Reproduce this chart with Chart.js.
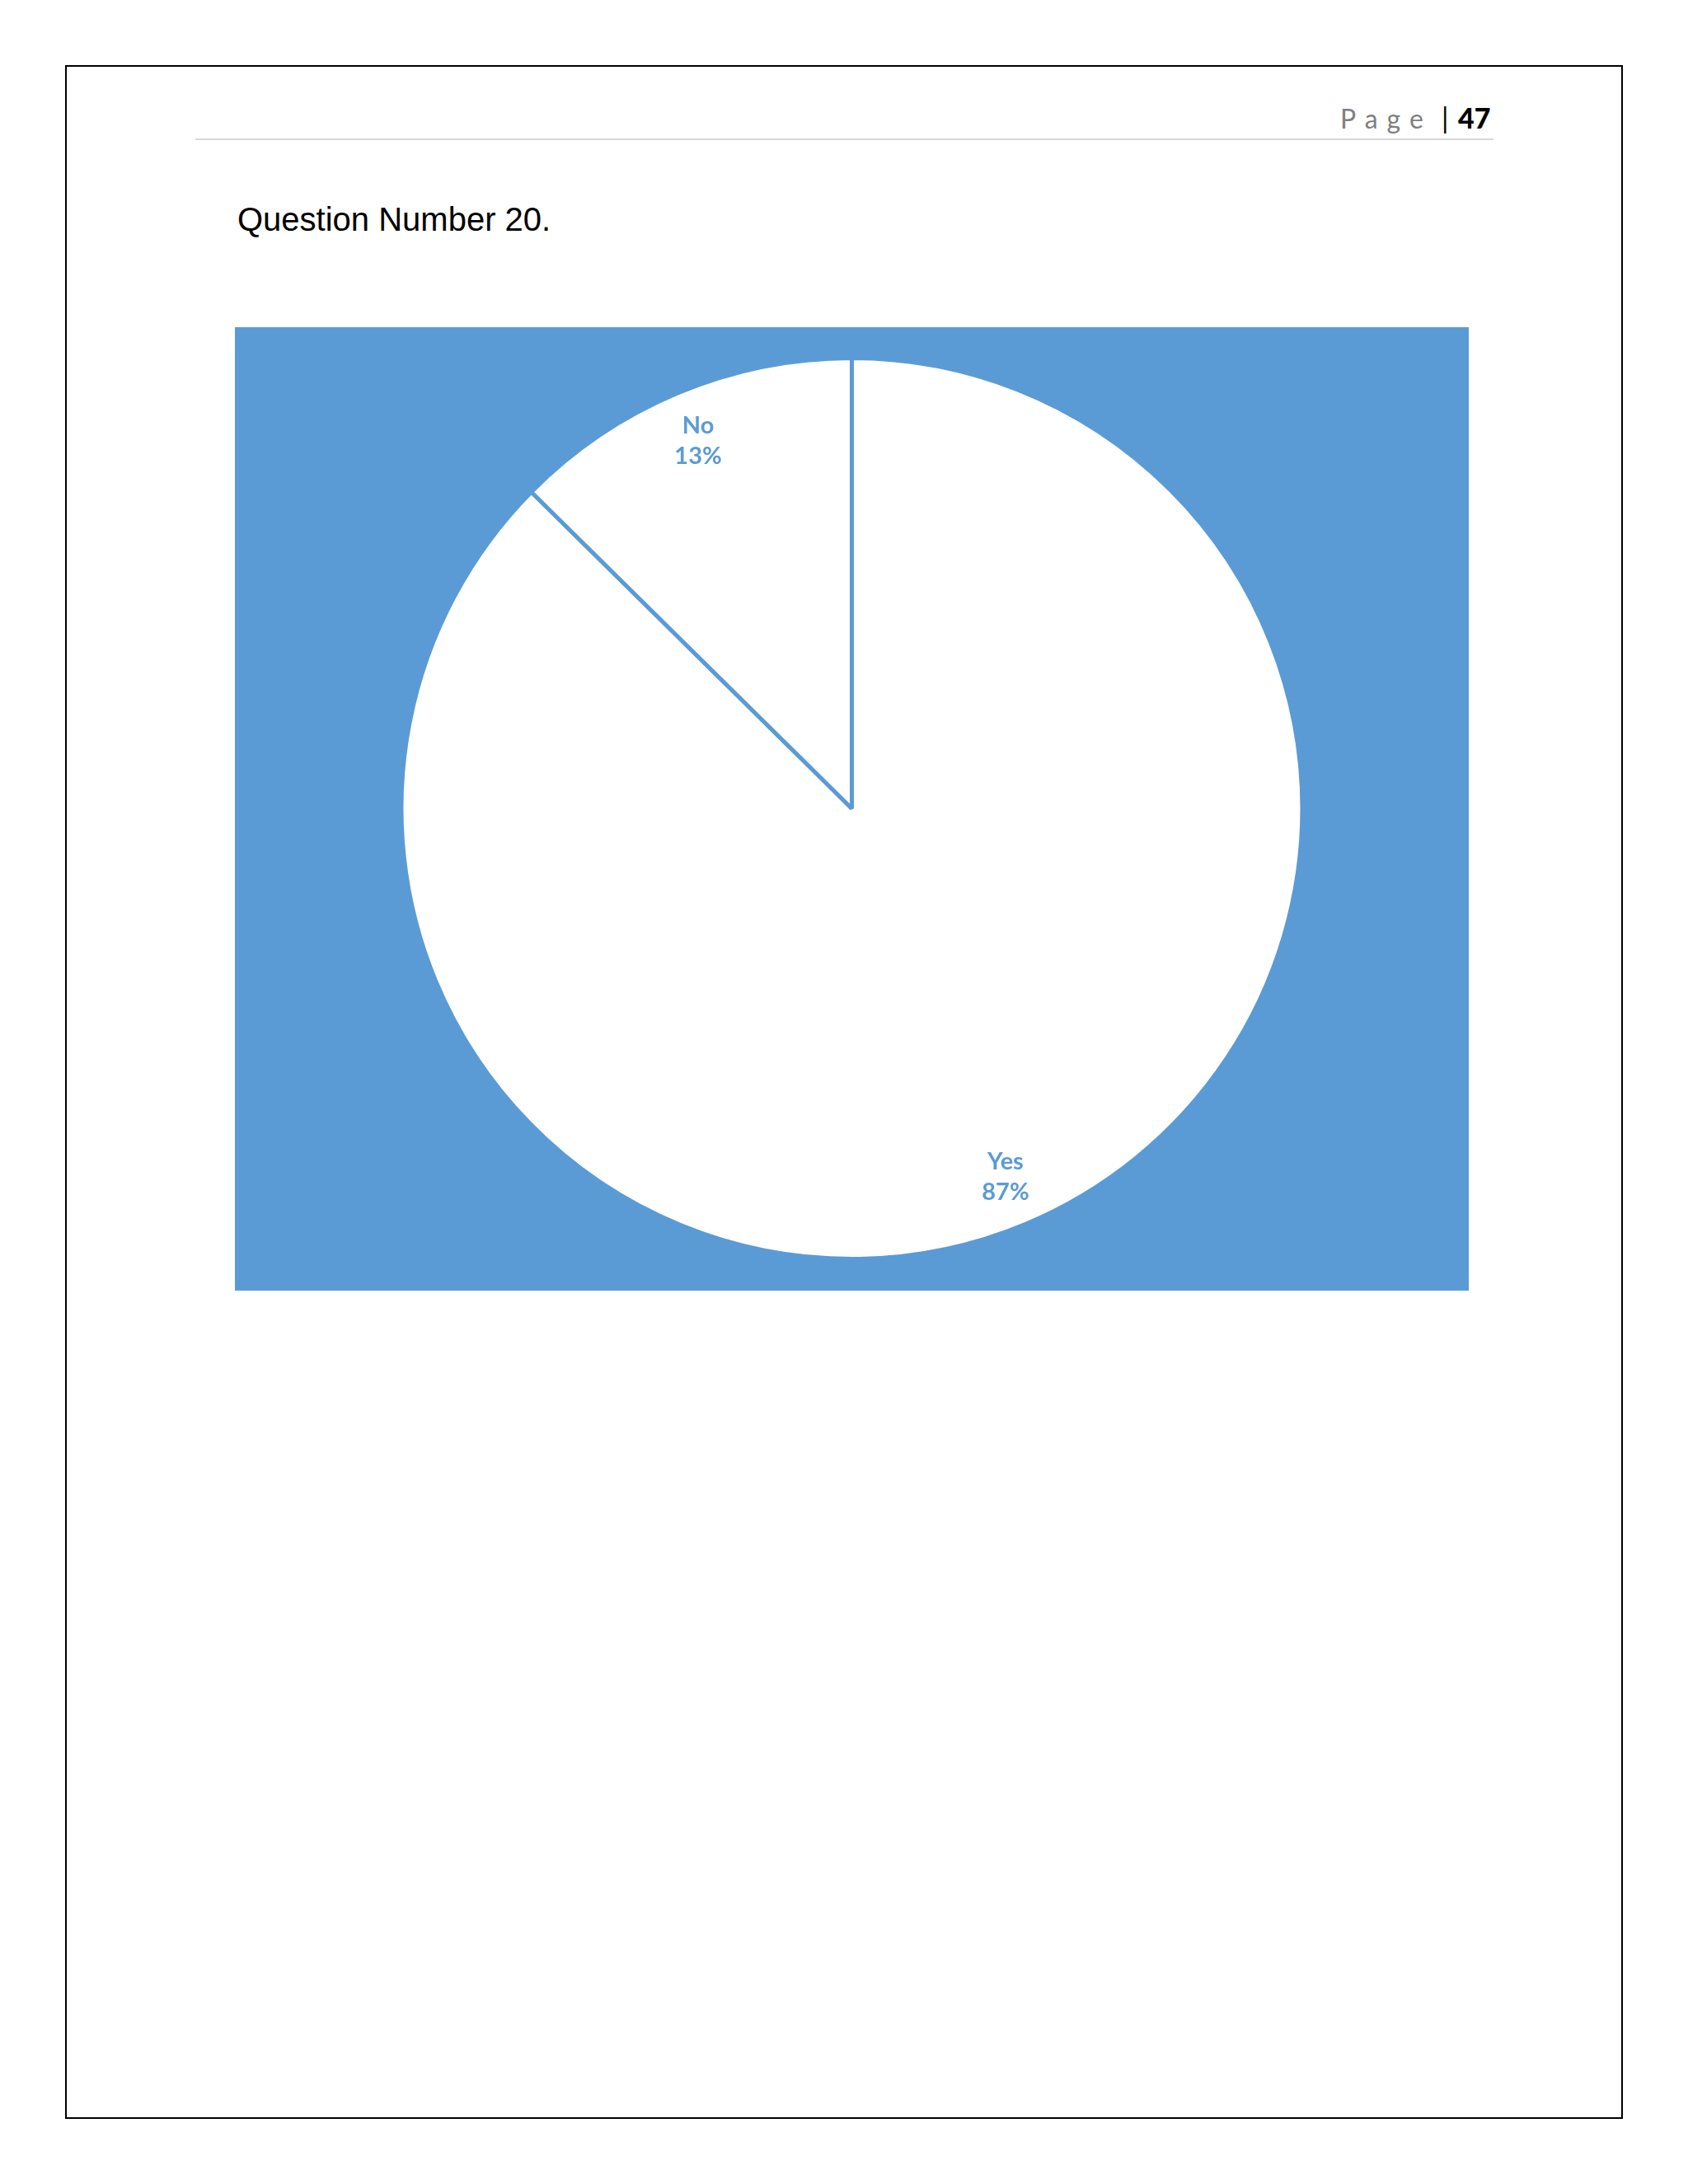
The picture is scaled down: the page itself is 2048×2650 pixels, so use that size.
<!DOCTYPE html>
<html>
<head>
<meta charset="utf-8">
<script src="https://cdn.jsdelivr.net/npm/chart.js@4/dist/chart.umd.min.js"></script>
<style>
  body { margin: 0; background: #fff; width: 2048px; height: 2650px; position: relative; overflow: hidden; }
  #frame { position: absolute; left: 79px; top: 79px; width: 1886px; height: 2488px; border: 2px solid #000; }
  #rule { position: absolute; left: 237px; top: 168px; width: 1575px; height: 2px; background: #d9d9d9; }
  #pageWord { position: absolute; left: 1626px; top: 128px; font: 32px Lato, sans-serif; color: #7f7f7f; letter-spacing: 11px; line-height: 1; }
  #pageBar { position: absolute; left: 1749px; top: 126px; font: 34px Lato, sans-serif; color: #000; line-height: 1; }
  #pageNum { position: absolute; left: 1769px; top: 126px; font: 900 34px Lato, sans-serif; color: #000; line-height: 1; }
  #question { position: absolute; left: 288px; top: 246px; font: 40px "Liberation Sans", Arial, sans-serif; color: #000; line-height: 1; }
  #chartBox { position: absolute; left: 285px; top: 397px; width: 1497px; height: 1169px; }
</style>
</head>
<body>
<div id="frame"></div>
<div id="pageWord">Page</div>
<div id="pageBar">|</div>
<div id="pageNum">47</div>
<div id="rule"></div>
<div id="question">Question Number 20.</div>
<div id="chartBox"><canvas id="chart"></canvas></div>
<script>
// answers to question 20, percent of respondents
const categories = ['Yes', 'No'];
const shares = [87.4, 12.6];

const blue = '#5b9bd5';

// fill the canvas with the blue plot background
const bgPlugin = {
  id: 'bg',
  beforeDraw(chart) {
    const ctx = chart.ctx;
    ctx.save();
    ctx.fillStyle = blue;
    ctx.fillRect(0, 0, chart.width, chart.height);
    ctx.restore();
  }
};

// category name + percent inside each slice
const sliceLabels = {
  id: 'sliceLabels',
  afterDatasetsDraw(chart) {
    const ctx = chart.ctx;
    const meta = chart.getDatasetMeta(0);
    const total = shares.reduce((a, b) => a + b, 0);
    ctx.save();
    ctx.fillStyle = blue;
    ctx.font = 'bold 29px Lato, sans-serif';
    ctx.textAlign = 'center';
    ctx.textBaseline = 'middle';
    meta.data.forEach((arc, i) => {
      const p = arc.getProps(['x', 'y', 'startAngle', 'endAngle', 'outerRadius'], true);
      const mid = (p.startAngle + p.endAngle) / 2;
      const r = p.outerRadius * 0.885;
      const x = p.x + Math.cos(mid) * r;
      const y = p.y + Math.sin(mid) * r;
      const pct = Math.round(shares[i] / total * 100) + '%';
      ctx.fillText(categories[i], x, y - 18);
      ctx.fillText(pct, x, y + 19);
    });
    ctx.restore();
  }
};

new Chart(document.getElementById('chart'), {
  type: 'pie',
  data: {
    labels: categories,
    datasets: [{
      data: shares,
      backgroundColor: ['#ffffff', '#ffffff'],
      borderColor: blue,
      borderWidth: 5
    }]
  },
  options: {
    responsive: true,
    maintainAspectRatio: false,
    animation: false,
    layout: { padding: { top: 35, bottom: 36 } },
    plugins: {
      legend: { display: false },
      tooltip: { enabled: false }
    }
  },
  plugins: [bgPlugin, sliceLabels]
});
</script>
</body>
</html>
